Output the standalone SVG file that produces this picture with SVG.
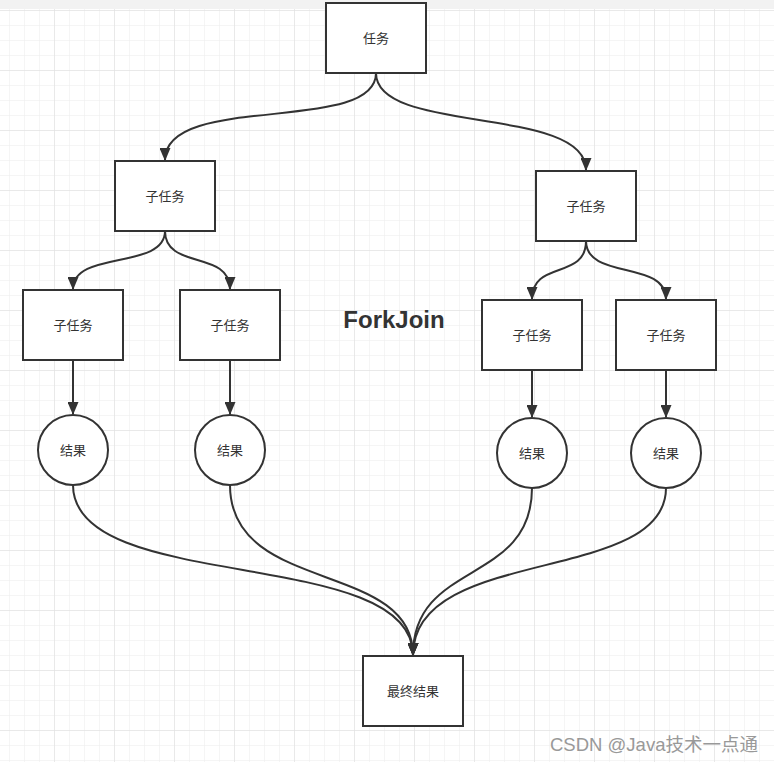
<svg xmlns="http://www.w3.org/2000/svg" width="774" height="762" viewBox="0 0 774 762">
<style>
.box{fill:#fff;stroke:#333;stroke-width:2}
.lbl{font-family:"Noto Sans CJK SC","Liberation Sans",sans-serif;font-size:13px;fill:#333;text-anchor:middle;dominant-baseline:central}
.edge{fill:none;stroke:#333;stroke-width:2;marker-end:url(#arr)}
</style>
<defs>
<pattern id="minor" patternUnits="userSpaceOnUse" x="9" y="10" width="15" height="15">
<path d="M0,0 H15 M0,0 V15" stroke="#ebebeb" stroke-width="1" fill="none"/>
</pattern>
<pattern id="major" patternUnits="userSpaceOnUse" x="54" y="10" width="60" height="60">
<path d="M0,0 H60 M0,0 V60" stroke="#dedede" stroke-width="1" fill="none"/>
</pattern>
<marker id="arr" markerUnits="userSpaceOnUse" markerWidth="13" markerHeight="11" viewBox="0 0 13 11" refX="12" refY="5.5" orient="auto">
<path d="M0,0 L13,5.5 L0,11 z" fill="#333"/>
</marker>
</defs>
<rect width="774" height="762" fill="#fff"/>
<rect width="774" height="762" fill="url(#minor)"/>
<rect width="774" height="762" fill="url(#major)"/>
<rect width="774" height="9" fill="#f2f2f2"/>

<g id="connectors">
<path class="edge" d="M376,73 C376,135 165,92 165,160"/>
<path class="edge" d="M376,73 C376,135 586,105 586,170"/>
<path class="edge" d="M165,231 C165,270 73,250 73,289"/>
<path class="edge" d="M165,231 C165,270 230,250 230,289"/>
<path class="edge" d="M586,241 C586,280 532,260 532,299"/>
<path class="edge" d="M586,241 C586,280 666,260 666,299"/>
<path class="edge" d="M73,360 V414"/>
<path class="edge" d="M230,360 V414"/>
<path class="edge" d="M532,370 V417"/>
<path class="edge" d="M666,370 V417"/>
<path class="edge" d="M73,485 C73,595 413,545 413,655"/>
<path class="edge" d="M230,485 C230,595 413,560 413,655"/>
<path class="edge" d="M532,488 C532,585 413,560 413,655"/>
<path class="edge" d="M666,488 C666,585 413,545 413,655"/>
</g>

<g id="task"><rect class="box" x="326" y="3" width="100" height="70"/><text class="lbl" x="376" y="37">任务</text></g>
<g id="sub-left"><rect class="box" x="115" y="161" width="100" height="70"/><text class="lbl" x="165" y="195">子任务</text></g>
<g id="sub-right"><rect class="box" x="536" y="171" width="100" height="70"/><text class="lbl" x="586" y="205">子任务</text></g>
<g id="sub-ll"><rect class="box" x="23" y="290" width="100" height="70"/><text class="lbl" x="73" y="324">子任务</text></g>
<g id="sub-lr"><rect class="box" x="180" y="290" width="100" height="70"/><text class="lbl" x="230" y="324">子任务</text></g>
<g id="sub-rl"><rect class="box" x="482" y="300" width="100" height="70"/><text class="lbl" x="532" y="334">子任务</text></g>
<g id="sub-rr"><rect class="box" x="616" y="300" width="100" height="70"/><text class="lbl" x="666" y="334">子任务</text></g>
<g id="res1"><circle class="box" cx="73" cy="450" r="35"/><text class="lbl" x="73" y="449">结果</text></g>
<g id="res2"><circle class="box" cx="230" cy="450" r="35"/><text class="lbl" x="230" y="449">结果</text></g>
<g id="res3"><circle class="box" cx="532" cy="453" r="35"/><text class="lbl" x="532" y="452">结果</text></g>
<g id="res4"><circle class="box" cx="666" cy="453" r="35"/><text class="lbl" x="666" y="452">结果</text></g>
<g id="final"><rect class="box" x="363" y="656" width="100" height="70"/><text class="lbl" x="413" y="690">最终结果</text></g>

<text x="394" y="328" text-anchor="middle" font-family="Liberation Sans,sans-serif" font-weight="bold" font-size="24" fill="#333">ForkJoin</text>
<text x="550" y="751" font-family="Liberation Sans,'Noto Sans CJK SC',sans-serif" font-size="18.5" fill="#999">CSDN @Java技术一点通</text>
</svg>
